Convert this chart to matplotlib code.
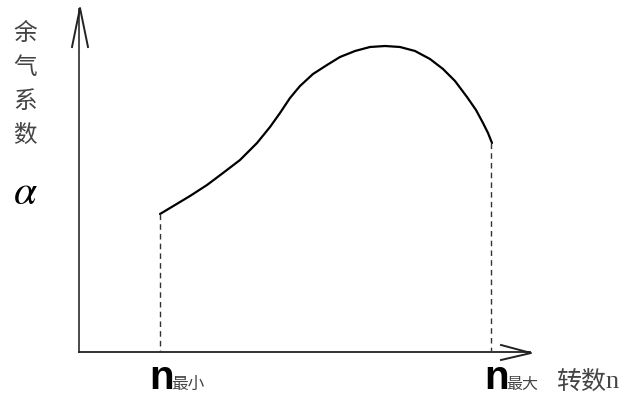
import numpy as np
import matplotlib.pyplot as plt

plt.rcParams['font.family'] = ['Noto Sans CJK SC', 'DejaVu Sans']

# 曲线数据 (按图读取, 画布像素坐标)
curve_x = [160, 175, 190, 207, 223, 240, 257, 270, 280, 290, 300, 313, 327,
           340, 355, 370, 385, 400, 415, 430, 443, 455, 467, 476, 483, 488,
           492]
curve_y = [214, 205, 196, 185, 173, 160, 143, 127, 113, 98, 86, 74, 65,
           57, 51, 47, 46, 47, 51, 59, 69, 81, 97, 110, 123, 133, 143]
n_min, n_max = 160, 491
origin_x, origin_y = 79, 352
ylabel_chars = ['余', '气', '系', '数']

fig = plt.figure(figsize=(6.27, 3.98), dpi=100)
ax = fig.add_axes([0, 0, 1, 1])
ax.set_xlim(0, 627)
ax.set_ylim(398, 0)
ax.axis('off')

axc = '#4a4a4a'
# 坐标轴
ax.plot([origin_x, origin_x], [origin_y, 9], color=axc, lw=1.4)
ax.plot([origin_x, 530], [origin_y, origin_y], color='#222', lw=1.3)
# 箭头 (开口)
ax.plot([72, origin_x + 1, 88], [47, 8, 47], color='#222', lw=1.4)
ax.plot([501, 531, 501], [345, 353, 360], color='#222', lw=1.4)

# 曲线
ax.plot(curve_x, curve_y, color='black', lw=1.6, solid_capstyle='round',
        solid_joinstyle='round')

# 虚线
ax.plot([n_min, n_min], [curve_y[0], origin_y], color='#333', lw=1.0,
        ls=(0, (4, 3)))
ax.plot([n_max, n_max], [curve_y[-1], origin_y], color='#333', lw=1.0,
        ls=(0, (4, 3)))

# 纵轴标签
for i, ch in enumerate(ylabel_chars):
    ax.text(25, 33 + i * 34, ch, fontsize=17, color='#444', ha='center',
            va='center')
ax.text(25, 192, r'$\alpha$', fontsize=30, color='black', ha='center',
        va='center', math_fontfamily='stix')

# 横轴标签
ax.text(149, 378, 'n', fontsize=29, fontweight='bold',
        family='Liberation Sans', ha='left', va='center', color='black')
ax.text(171, 384, '最小', fontsize=12, ha='left', va='center', color='#444')
ax.text(484, 378, 'n', fontsize=29, fontweight='bold',
        family='Liberation Sans', ha='left', va='center', color='black')
ax.text(506, 384, '最大', fontsize=11.5, ha='left', va='center', color='#444')
ax.text(556, 382, '转数', fontsize=18, ha='left', va='center', color='#444')
ax.text(605, 382, 'n', fontsize=19, ha='left', va='center', color='#444',
        family='Liberation Serif')

fig.savefig('out.png', dpi=100)
